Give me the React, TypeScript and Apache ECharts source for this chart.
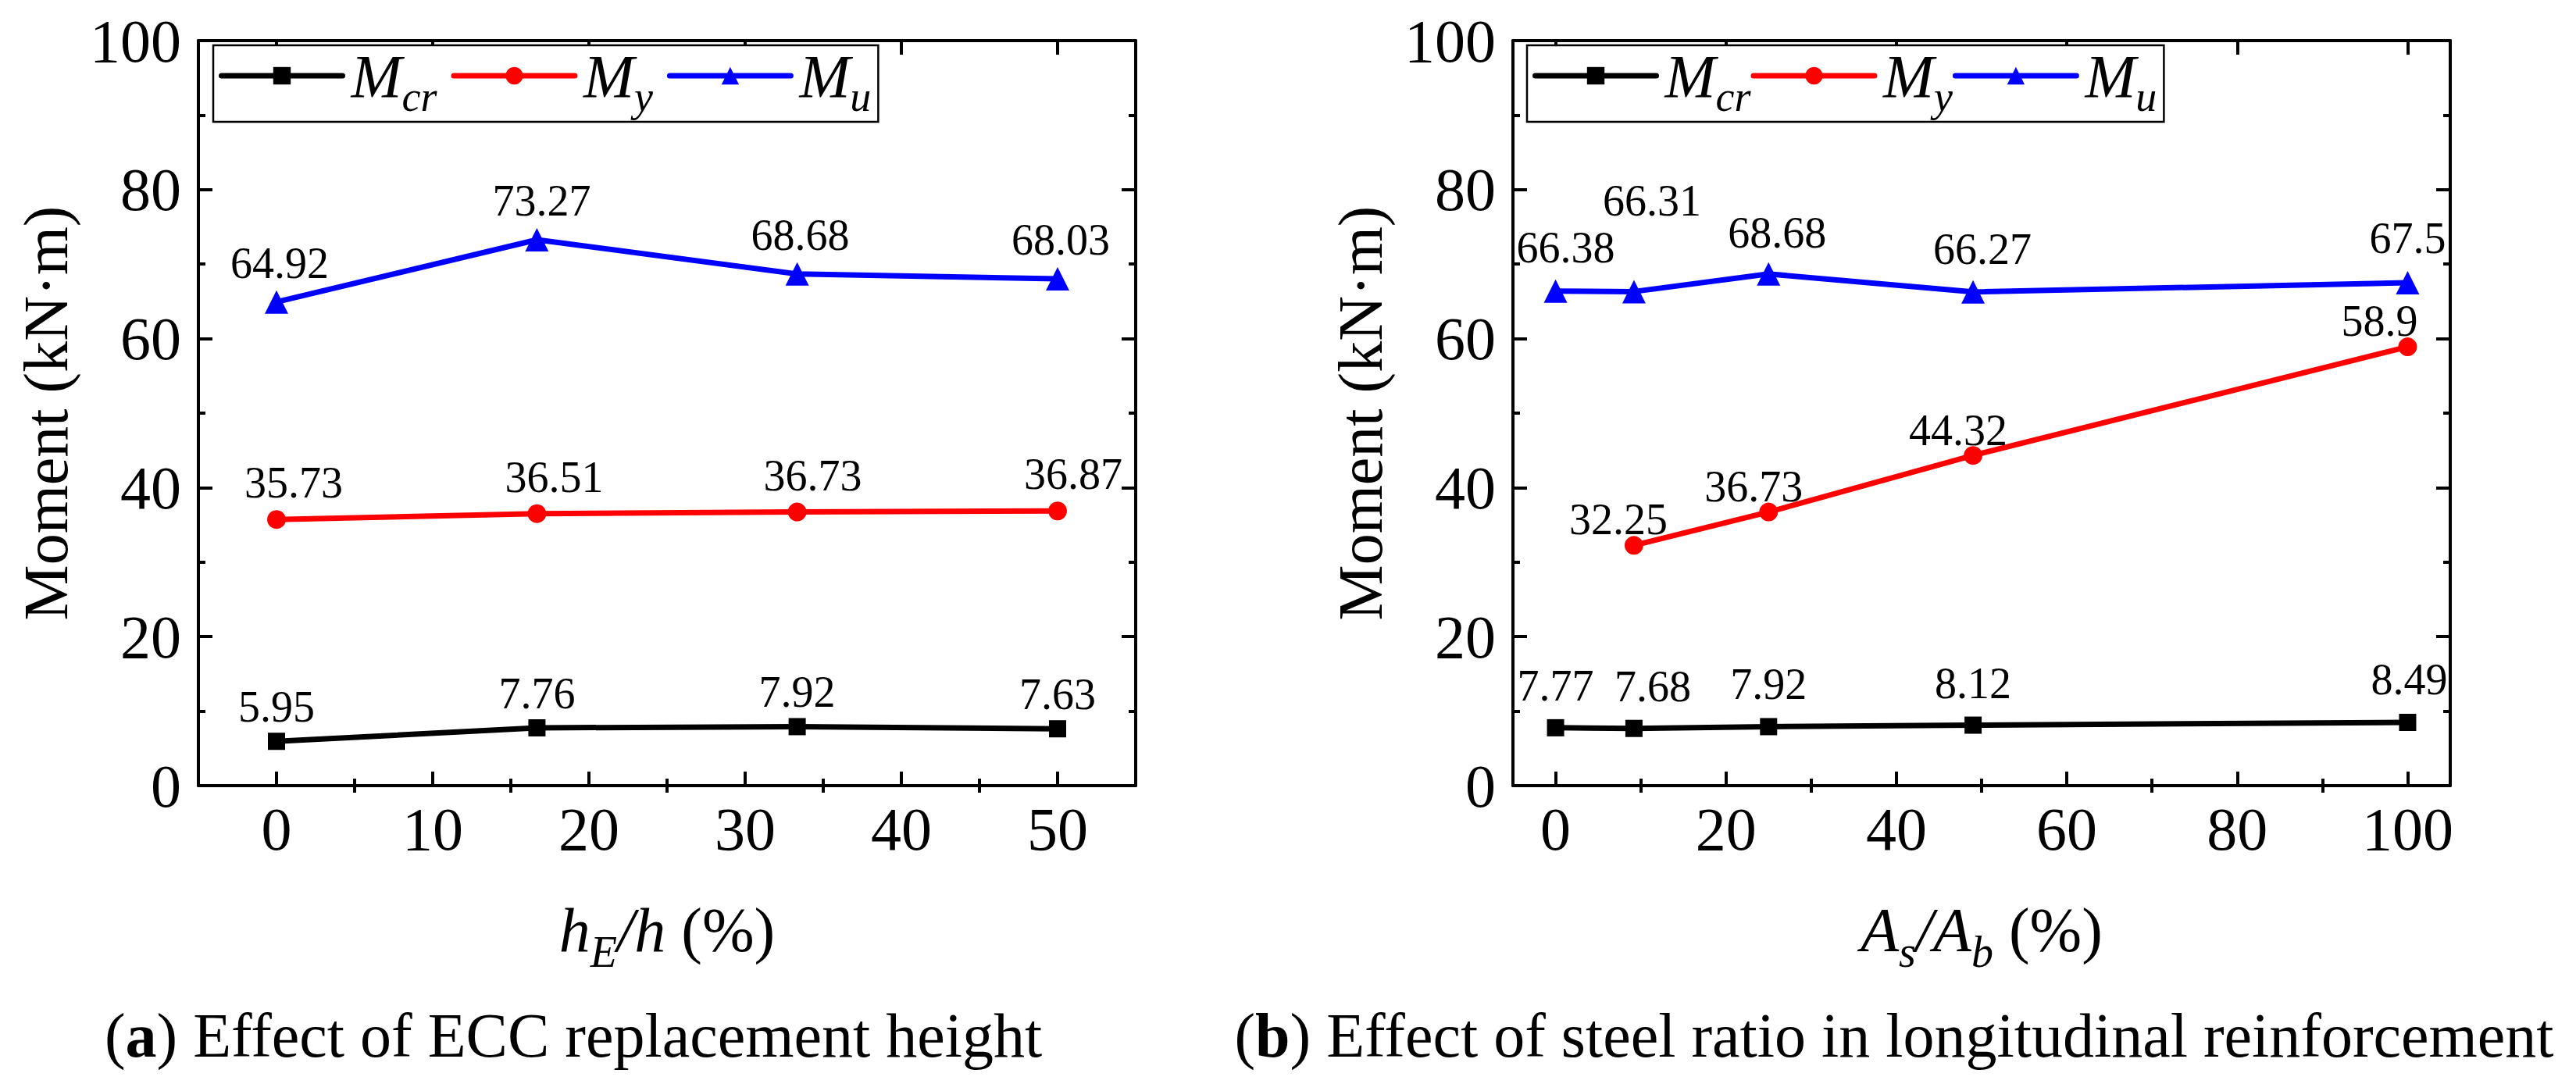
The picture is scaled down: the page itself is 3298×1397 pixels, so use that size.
import React, { useEffect, useRef } from "react";
import * as echarts from "echarts";

// ---- data (a) ----
const xA = [0, 16.67, 33.33, 50];
const mcrA = [5.95, 7.76, 7.92, 7.63];
const myA = [35.73, 36.51, 36.73, 36.87];
const muA = [64.92, 73.27, 68.68, 68.03];
const xTicksA = [0, 10, 20, 30, 40, 50];
const xMinorA = [5, 15, 25, 35, 45];

// ---- data (b) ----
const xB = [0, 9.2, 25, 49, 100];
const mcrB = [7.77, 7.68, 7.92, 8.12, 8.49];
const xBMy = [9.2, 25, 49, 100];
const myB = [32.25, 36.73, 44.32, 58.9];
const muB = [66.38, 66.31, 68.68, 66.27, 67.5];
const xTicksB = [0, 20, 40, 60, 80, 100];
const xMinorB = [10, 30, 50, 70, 90];

// ---- label nudges (styling) ----
const offMcrA = [[0, 2], [0, 2], [0, 2], [0, 2]];
const offMyA = [[22, 0], [22, 0], [20, 0], [20, 0]];
const offMuA = [[4, 0], [6, 0], [4, 0], [4, 0]];
const offMcrB = [[0, -8], [24, -8], [0, -8], [0, -8], [2, -9]];
const offMyB = [[-20, 14], [-19, 14], [-19, 15], [-36, 14]];
const offMuB = [[13, -6], [23, -66], [11, -3], [12, -5], [0, -7]];

const FONT = "Liberation Serif";

function App() {
  const ref = useRef<HTMLDivElement>(null);
  useEffect(() => {
    if (!ref.current) return;
    const chart = echarts.init(ref.current, null, { renderer: "svg" });

    const axLine = { show: true, onZero: false, lineStyle: { color: "#000", width: 4 } };
    const tickMajor = (vals: number[]) => ({
      show: true, inside: true, length: 18, customValues: vals,
      lineStyle: { color: "#000", width: 4 },
    });
    const tickMinor = (vals: number[]) => ({
      show: true, inside: true, length: 9, customValues: vals,
      lineStyle: { color: "#000", width: 4 },
    });
    const subRich = {
      i: { fontFamily: FONT, fontSize: 80, fontStyle: "italic", lineHeight: 112, verticalAlign: "middle", color: "#000" },
      s: { fontFamily: FONT, fontSize: 56, fontStyle: "italic", verticalAlign: "bottom", color: "#000" },
      n: { fontFamily: FONT, fontSize: 80, lineHeight: 112, verticalAlign: "middle", color: "#000" },
    };

    const mkX = (grid: number, min: number, max: number, majors: number[], minors: number[], name: string) => [
      {
        type: "value", gridIndex: grid, position: "bottom", min, max,
        axisLine: axLine, axisTick: tickMajor(majors),
        axisLabel: { show: true, customValues: majors, margin: 16, fontFamily: FONT, fontSize: 78, color: "#000" },
        splitLine: { show: false },
        name, nameLocation: "middle", nameGap: 129,
        nameTextStyle: { rich: subRich, color: "#000" },
      },
      {
        type: "value", gridIndex: grid, position: "bottom", min, max,
        axisLine: { show: false }, axisTick: tickMinor(minors),
        axisLabel: { show: false }, splitLine: { show: false },
      },
      {
        type: "value", gridIndex: grid, position: "top", min, max,
        axisLine: axLine, axisTick: tickMajor(majors),
        axisLabel: { show: false }, splitLine: { show: false },
      },
      {
        type: "value", gridIndex: grid, position: "top", min, max,
        axisLine: { show: false }, axisTick: tickMinor(minors),
        axisLabel: { show: false }, splitLine: { show: false },
      },
    ];

    const mkY = (grid: number) => [
      {
        type: "value", gridIndex: grid, position: "left", min: 0, max: 100, interval: 20,
        axisLine: axLine,
        axisTick: { show: true, inside: true, length: 18, lineStyle: { color: "#000", width: 4 } },
        minorTick: { show: true, splitNumber: 2, length: 9, lineStyle: { color: "#000", width: 4 } },
        axisLabel: { margin: 22, fontFamily: FONT, fontSize: 78, color: "#000" },
        splitLine: { show: false }, minorSplitLine: { show: false },
        name: "Moment (kN·m)", nameLocation: "middle", nameGap: 155,
        nameTextStyle: { fontFamily: FONT, fontSize: 80, color: "#000" },
      },
      {
        type: "value", gridIndex: grid, position: "right", min: 0, max: 100, interval: 20,
        axisLine: axLine,
        axisTick: { show: true, inside: true, length: 18, lineStyle: { color: "#000", width: 4 } },
        minorTick: { show: true, splitNumber: 2, length: 9, lineStyle: { color: "#000", width: 4 } },
        axisLabel: { show: false },
        splitLine: { show: false }, minorSplitLine: { show: false },
      },
    ];

    const pts = (xs: number[], ys: number[], offs: number[][]) =>
      xs.map((x, i) => ({ value: [x, ys[i]], label: { offset: offs[i] } }));

    const mkSeries = (
      name: string, color: string, symbol: string, size: number,
      xIdx: number, yIdx: number, data: any[]
    ) => ({
      type: "line", name, xAxisIndex: xIdx, yAxisIndex: yIdx, data,
      symbol, symbolSize: size,
      lineStyle: { color, width: 7, cap: "round", join: "round" },
      itemStyle: { color },
      label: {
        show: true, position: "top", distance: 7,
        fontFamily: FONT, fontSize: 56, color: "#000",
        formatter: (p: any) => String(p.value[1]),
      },
      z: 3,
    });

    const legendRich = {
      m: { fontFamily: FONT, fontSize: 78, fontStyle: "italic", lineHeight: 108, verticalAlign: "middle", color: "#000", padding: [0, 0, 0, 6] },
      s: { fontFamily: FONT, fontSize: 54, fontStyle: "italic", verticalAlign: "bottom", color: "#000" },
    };
    const legendFmt = (n: string) => (n === "Mcr" ? "{m|M}{s|cr}" : n === "My" ? "{m|M}{s|y}" : "{m|M}{s|u}");
    const mkLegend = (left: number, gap: number) => ({
      show: true, left, top: 58, orient: "horizontal",
      data: ["Mcr", "My", "Mu"],
      itemWidth: 155, itemHeight: 28, itemGap: gap,
      padding: [0, 9, 5, 7],
      borderColor: "#000", borderWidth: 2.5, backgroundColor: "#fff",
      selectedMode: false,
      lineStyle: { width: 7, cap: "round" },
      formatter: legendFmt,
      textStyle: { rich: legendRich, color: "#000" },
    });

    const option: any = {
      animation: false,
      backgroundColor: "#fff",
      grid: [
        { left: 254, top: 52, width: 1200, height: 954 },
        { left: 1937, top: 52, width: 1200, height: 954 },
      ],
      xAxis: [
        ...mkX(0, -5, 55, xTicksA, xMinorA, "{i|h}{s|E}{i|/h}{n| (%)}"),
        ...mkX(1, -5, 105, xTicksB, xMinorB, "{i|A}{s|s}{i|/A}{s|b}{n| (%)}"),
      ],
      yAxis: [...mkY(0), ...mkY(1)],
      legend: [mkLegend(273, 18), mkLegend(1955, 0)],
      series: [
        mkSeries("Mcr", "#000000", "rect", 22, 0, 0, pts(xA, mcrA, offMcrA)),
        mkSeries("My", "#ff0000", "circle", 24, 0, 0, pts(xA, myA, offMyA)),
        mkSeries("Mu", "#0000ff", "triangle", 30, 0, 0, pts(xA, muA, offMuA)),
        mkSeries("Mcr", "#000000", "rect", 22, 4, 2, pts(xB, mcrB, offMcrB)),
        mkSeries("My", "#ff0000", "circle", 24, 4, 2, pts(xBMy, myB, offMyB)),
        mkSeries("Mu", "#0000ff", "triangle", 30, 4, 2, pts(xB, muB, offMuB)),
      ],
      graphic: [
        {
          type: "text", x: 734, y: 1326,
          style: {
            text: "({b|a}) Effect of ECC replacement height",
            fontFamily: FONT, fontSize: 80, fill: "#000",
            align: "center", verticalAlign: "middle",
            rich: { b: { fontFamily: FONT, fontSize: 80, fontWeight: "bold", fill: "#000" } },
          },
        },
        {
          type: "text", x: 2425, y: 1326,
          style: {
            text: "({b|b}) Effect of steel ratio in longitudinal reinforcement",
            fontFamily: FONT, fontSize: 80, fill: "#000",
            align: "center", verticalAlign: "middle",
            rich: { b: { fontFamily: FONT, fontSize: 80, fontWeight: "bold", fill: "#000" } },
          },
        },
      ],
    };
    chart.setOption(option);
    return () => chart.dispose();
  }, []);
  return (
    <div
      ref={ref}
      style={{ position: "absolute", left: 0, top: 0, width: 3298, height: 1397, background: "#fff" }}
    />
  );
}

export default App;
